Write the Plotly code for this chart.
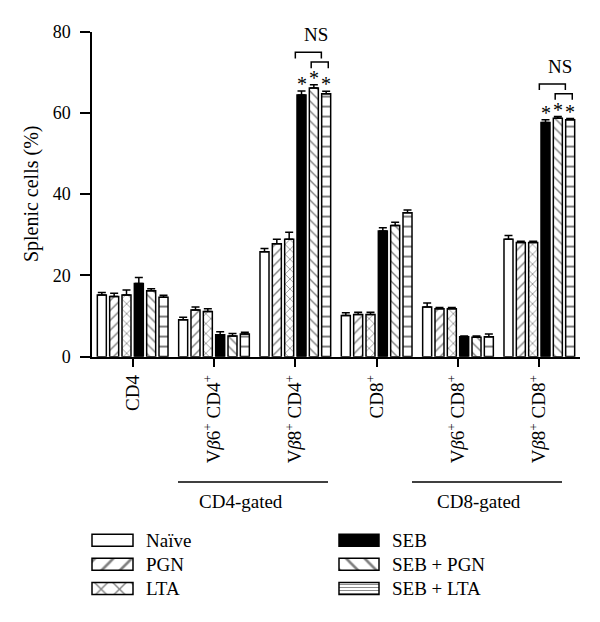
import plotly.graph_objects as go

# ---------------- data ----------------
categories = ["CD4", "Vβ6+ CD4+", "Vβ8+ CD4+", "CD8+", "Vβ6+ CD8+", "Vβ8+ CD8+"]
tick_labels = [
    "CD4",
    "V<i>β</i>6<sup>+</sup> CD4<sup>+</sup>",
    "V<i>β</i>8<sup>+</sup> CD4<sup>+</sup>",
    "CD8<sup>+</sup>",
    "V<i>β</i>6<sup>+</sup> CD8<sup>+</sup>",
    "V<i>β</i>8<sup>+</sup> CD8<sup>+</sup>",
]
series_names = ["Naïve", "PGN", "LTA", "SEB", "SEB + PGN", "SEB + LTA"]

naive = [15.2, 9.1, 25.8, 10.1, 12.2, 28.9]
naive_err = [0.6, 0.6, 0.8, 0.7, 1.0, 0.9]
pgn = [14.8, 11.5, 27.8, 10.4, 11.8, 28.1]
pgn_err = [0.8, 0.7, 1.1, 0.5, 0.3, 0.3]
lta = [15.2, 11.1, 28.9, 10.4, 11.8, 28.1]
lta_err = [1.2, 0.7, 1.7, 0.5, 0.3, 0.3]
seb = [18.0, 5.4, 64.4, 30.9, 4.9, 57.6]
seb_err = [1.5, 0.7, 1.0, 0.8, 0.2, 0.7]
seb_pgn = [16.2, 5.1, 66.1, 32.3, 4.8, 58.7]
seb_pgn_err = [0.5, 0.6, 0.8, 0.8, 0.3, 0.4]
seb_lta = [14.6, 5.6, 64.7, 35.4, 4.9, 58.3]
seb_lta_err = [0.5, 0.4, 0.6, 0.7, 0.7, 0.3]

values = [naive, pgn, lta, seb, seb_pgn, seb_lta]
errors = [naive_err, pgn_err, lta_err, seb_err, seb_pgn_err, seb_lta_err]

# groups marked with stars / NS brackets
star_groups = [2, 5]
star_series = [3, 4, 5]

# ---------------- styles / layout helpers ----------------
FONT = "Liberation Serif"
W, H = 600, 622


def py(y):
    # vertical page position for a target picture position
    return (y - 10.5) / 0.9646


styles = [
    dict(color="white", shape="", size=7, lsize=12),
    dict(color="white", shape="/", size=7, lsize=13),
    dict(color="white", shape="x", size=7, lsize=13),
    dict(color="black", shape="", size=7, lsize=12),
    dict(color="white", shape="\\", size=7, lsize=13),
    dict(color="white", shape="-", size=10, lsize=3),
]

BARGAP = 0.09
GROUPGAP = 0.27
nser = len(series_names)
slot = (1 - BARGAP) / nser


def offset_of(i):
    return (i - (nser - 1) / 2) * slot


def marker_for(st, size):
    m = dict(color=st["color"], line=dict(color="black", width=1.5))
    if st["shape"]:
        m["pattern"] = dict(shape=st["shape"], fgcolor="black", bgcolor="white",
                            size=size, solidity=0.2 if size > 4 else 0.3)
    return m


fig = go.Figure()
xs = list(range(len(categories)))
for i, name in enumerate(series_names):
    fig.add_trace(go.Bar(
        x=xs, y=values[i], name=name, showlegend=False,
        marker=marker_for(styles[i], styles[i]["size"]),
        error_y=dict(type="data", array=errors[i], arrayminus=[0] * len(xs),
                     symmetric=False, color="black", thickness=1.5, width=4),
    ))

# ---------------- stars & NS brackets (data coordinates) ----------------
annotations = []
shapes = []
for g in star_groups:
    for i in star_series:
        top = values[i][g] + errors[i][g]
        annotations.append(dict(x=g + offset_of(i), y=top, xref="x", yref="y",
                                text="*", showarrow=False, yanchor="middle",
                                yshift=7, font=dict(family=FONT, size=20, color="black")))
    cap = max(values[i][g] + errors[i][g] for i in star_series)
    b1_top, b2_top, drop = cap + 8.0, cap + 5.6, 1.5
    for (x0, x1, yt) in [(g + 0.0, g + 0.32, b1_top), (g + 0.195, g + 0.405, b2_top)]:
        shapes.append(dict(type="path", xref="x", yref="y",
                           path=f"M {x0},{yt - drop} L {x0},{yt} L {x1},{yt} L {x1},{yt - drop}",
                           line=dict(color="black", width=1.5)))
    annotations.append(dict(x=g + 0.25, y=cap + 12.3, xref="x", yref="y", text="NS",
                            showarrow=False, yanchor="middle",
                            font=dict(family=FONT, size=19, color="black")))

# ---------------- pixel overlay (x2/y2) for legend and group labels ----------------
legend_left = [(92, 133, 144), (339, 379, 390)]
legend_rows = [539, 563, 587]
for i, name in enumerate(series_names):
    col, row = divmod(i, 3)
    x0, x1, tx = legend_left[col]
    st = styles[i]
    fig.add_trace(go.Bar(
        y=[py(legend_rows[row])], x=[x1 - x0], base=[x0], orientation="h",
        width=[12.4], offset=-6.2, xaxis="x2", yaxis="y2", showlegend=False,
        marker=marker_for(st, st["lsize"]), hoverinfo="skip",
    ))
    annotations.append(dict(x=tx, y=py(legend_rows[row]), xref="x2", yref="y2", text=name,
                            showarrow=False, xanchor="left", yanchor="middle",
                            font=dict(family=FONT, size=19, color="black")))

for (x0, x1, tx, label) in [(178, 328, 241, "CD4-gated"), (412, 562, 479, "CD8-gated")]:
    shapes.append(dict(type="line", xref="x2", yref="y2", x0=x0, x1=x1,
                       y0=py(481), y1=py(481), line=dict(color="black", width=1.5)))
    annotations.append(dict(x=tx, y=py(500), xref="x2", yref="y2", text=label,
                            showarrow=False, xanchor="center", yanchor="middle",
                            font=dict(family=FONT, size=19, color="black")))

annotations.append(dict(x=31, y=py(194), xref="x2", yref="y2", text="Splenic cells (%)",
                        textangle=-90, showarrow=False, xanchor="center", yanchor="middle",
                        font=dict(family=FONT, size=20, color="black")))

fig.update_layout(
    width=W, height=H,
    margin=dict(l=0, r=0, t=0, b=0),
    paper_bgcolor="white", plot_bgcolor="rgba(0,0,0,0)",
    barmode="group", bargap=BARGAP, bargroupgap=GROUPGAP,
    showlegend=False,
    font=dict(family=FONT, size=19, color="black"),
    xaxis=dict(domain=[92 / W, 580 / W], range=[-0.5, 5.5], tickmode="array",
               tickvals=xs, ticktext=tick_labels, tickangle=-90,
               showline=True, linecolor="black", linewidth=1.5,
               ticks="outside", ticklen=9, tickwidth=1.5, tickcolor="black",
               showgrid=False, zeroline=False, anchor="y",
               tickfont=dict(family=FONT, size=19, color="black")),
    yaxis=dict(domain=[(H - py(356)) / H, (H - py(32)) / H], range=[0, 80],
               tickvals=[0, 20, 40, 60, 80],
               showline=True, linecolor="black", linewidth=1.5,
               ticks="outside", ticklen=10, tickwidth=1.5, tickcolor="black",
               ticklabelstandoff=6,
               showgrid=False, zeroline=False, anchor="x",
               tickfont=dict(family=FONT, size=18, color="black")),
    xaxis2=dict(domain=[0, 1], range=[0, W], visible=False, anchor="y2", fixedrange=True),
    yaxis2=dict(domain=[0, 1], range=[H, 0], visible=False, anchor="x2", fixedrange=True),
    annotations=annotations,
    shapes=shapes,
)

fig.write_html("out.html", config={"displayModeBar": False},
               post_script="document.body.style.margin='0px';")
